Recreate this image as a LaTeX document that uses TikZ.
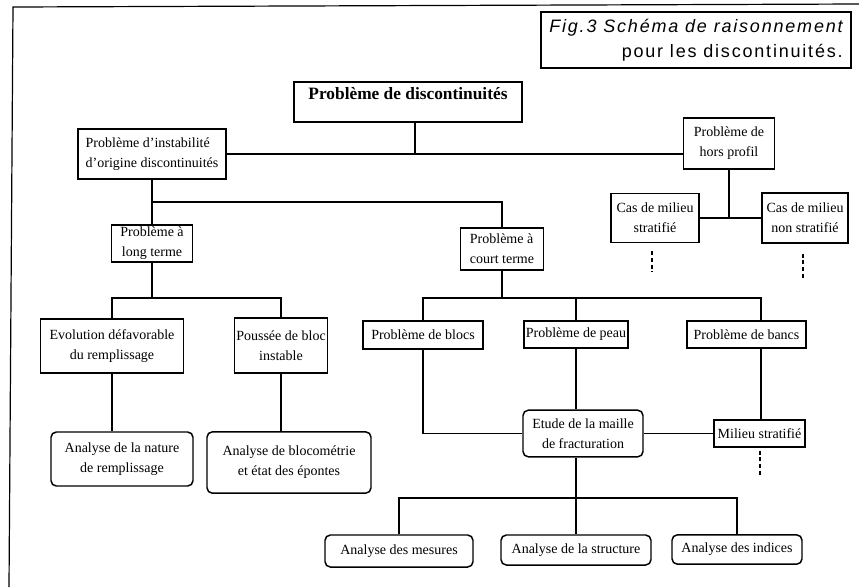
\documentclass[tikz,border=0pt]{standalone}
\usepackage{fontspec}
\setmainfont{Liberation Serif}
\newfontfamily\figfont[LetterSpace=10]{Liberation Sans}
\usepackage{tikz}
\usetikzlibrary{calc}

\begin{document}
\begin{tikzpicture}[x=0.75pt, y=-0.75pt, line width=1.1pt,
    prob/.style={draw, rectangle, inner sep=1.5pt, font=\fontsize{10.5}{15}\selectfont, align=center},
    analyse/.style={prob, rounded corners=4pt},
    suite/.style={line width=1.2pt, dash pattern=on 3pt off 2pt}]
    \useasboundingbox (0,0) rectangle (859,587);

    % Page frame
    \draw[line width=0.9pt] (9,587) -- (13,7) -- (859,4);

    % Title
    \node[prob, font=\figfont\fontsize{13.5}{19}\selectfont, align=right, minimum width=232.5pt, minimum height=42pt] (titre) at (696,40) {{\itshape Fig.3 Schéma de raisonnement}\\pour les discontinuités.};

    % Upper levels
    \node[prob, font=\bfseries\fontsize{13}{15}\selectfont, minimum width=171pt, minimum height=30pt, text height=9pt, text depth=13pt] (discont) at (408,102) {Problème de discontinuités};
    \node[prob, align=left, minimum width=111pt, minimum height=37.5pt] (instab) at (152,154) {Problème d'instabilité\\d'origine discontinuités};
    \node[prob, minimum width=68pt, minimum height=38pt] (horsprofil) at (729,143.5) {Problème de\\hors profil};
    \node[prob, minimum width=66pt, minimum height=37pt] (stratifie) at (655,218) {Cas de milieu\\stratifié};
    \node[prob, minimum width=64.5pt, minimum height=37.5pt] (nonstratifie) at (805,218) {Cas de milieu\\non stratifié};
    \node[prob, minimum width=61pt, minimum height=28pt] (longterme) at (152,243.5) {Problème à\\long terme};
    \node[prob, align=left, minimum width=62pt, minimum height=31.5pt] (courtterme) at (502,249) {Problème à\\court terme};

    % Middle levels
    \node[prob, minimum width=107pt, minimum height=40.5pt] (evolution) at (112,346) {Evolution défavorable\\du remplissage};
    \node[prob, minimum width=70pt, minimum height=41pt] (poussee) at (281,345.5) {Poussée de bloc\\instable};
    \node[prob, minimum width=90pt, minimum height=21pt] (blocs) at (423,335) {Problème de blocs};
    \node[prob, minimum width=72pt, minimum height=20pt] (peau) at (576,334.5) {Problème de peau};
    \node[prob, minimum width=89pt, minimum height=20pt] (bancs) at (746.5,334.5) {Problème de bancs};
    \node[analyse, minimum width=106.5pt, minimum height=40.5pt] (nature) at (122,459) {Analyse de la nature\\de remplissage};
    \node[analyse, minimum width=123pt, minimum height=46pt] (blocometrie) at (289,462.5) {Analyse de blocométrie\\et état des épontes};
    \node[analyse, minimum width=90pt, minimum height=35pt] (maille) at (583,433.5) {Etude de la maille\\de fracturation};
    \node[prob, minimum width=68pt, minimum height=20pt] (milieu) at (759.5,433.5) {Milieu stratifié};

    % Bottom level
    \node[analyse, minimum width=111pt, minimum height=24pt] (mesures) at (399,551) {Analyse des mesures};
    \node[analyse, minimum width=112.5pt, minimum height=22.5pt] (structure) at (576,550) {Analyse de la structure};
    \node[analyse, minimum width=97.5pt, minimum height=22pt] (indices) at (737,549.5) {Analyse des indices};

    % Junctions
    \coordinate (j1) at (415,154);
    \coordinate (j2) at (502,202);
    \coordinate (j3) at (152,298);
    \coordinate (j4) at (761,298);
    \coordinate (j5) at (576,498);
    \coordinate (fin1) at (652,272);
    \coordinate (fin2) at (803,280);
    \coordinate (fin3) at (760,477);

    % Connectors
    \draw (discont.south -| j1) -- (j1);
    \draw (instab.east) -- (horsprofil.west |- instab.east);
    \draw (horsprofil.south) -- (horsprofil.south |- stratifie.east);
    \draw (stratifie.east) -- (nonstratifie.west);
    \draw (instab.south) -- (longterme.north);
    \draw (instab.south |- j2) -- (j2) -- (courtterme.north);
    \draw (longterme.south) -- (j3);
    \draw (evolution.north) |- (j3) -| (poussee.north);
    \draw (evolution.south) -- (evolution.south |- nature.north);
    \draw (poussee.south) -- (poussee.south |- blocometrie.north);
    \draw (courtterme.south) -- (courtterme.south |- j4);
    \draw (blocs.north) |- (j4) -- (j4 |- bancs.north);
    \draw (peau.north) -- (peau.north |- j4);
    \draw (blocs.south) |- (maille.west);
    \draw (peau.south) -- (peau.south |- maille.north);
    \draw (bancs.south -| j4) -- (j4 |- milieu.north);
    \draw (maille.east) -- (milieu.west);
    \draw (maille.south -| j5) -- (structure.north);
    \draw (mesures.north) |- (j5) -| (indices.north);

    % Continuations
    \draw[suite] ($(stratifie.south -| fin1)+(0,8)$) -- (fin1);
    \draw[suite] ($(nonstratifie.south -| fin2)+(0,10)$) -- (fin2);
    \draw[suite] ($(milieu.south -| fin3)+(0,3)$) -- (fin3);
\end{tikzpicture}
\end{document}
